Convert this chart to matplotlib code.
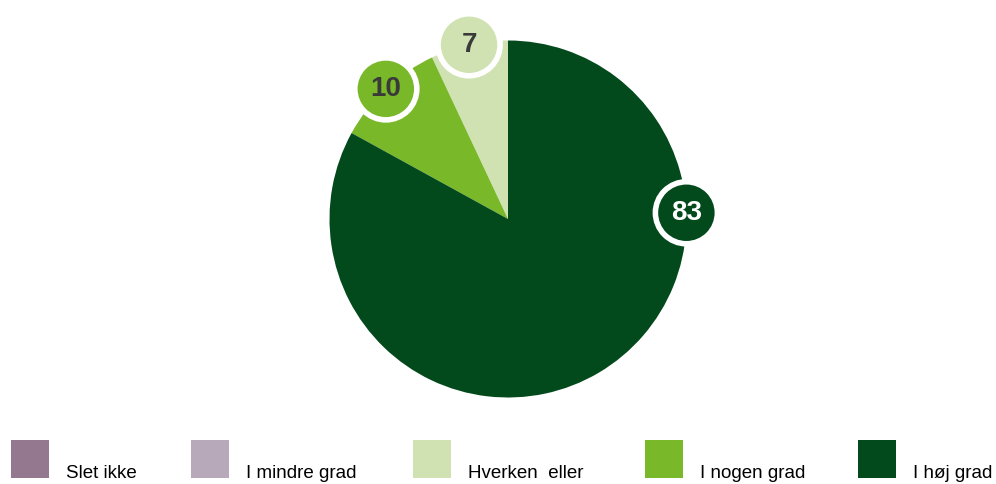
import numpy as np
import matplotlib.pyplot as plt
from matplotlib.patches import Circle, Rectangle

plt.rcParams['font.family'] = ['Liberation Sans', 'DejaVu Sans']

categories = ['Slet ikke', 'I mindre grad', 'Hverken  eller', 'I nogen grad', 'I høj grad']
values = [0, 0, 7, 10, 83]
colors = ['#94788f', '#b8a9ba', '#d0e2b2', '#78b829', '#02491c']
label_colors = ['#3a3a3a', '#3a3a3a', '#3a3a3a', '#3a3a3a', 'white']

W, H = 996, 484
fig = plt.figure(figsize=(W / 100, H / 100), dpi=100)
ax = fig.add_axes([0, 0, 1, 1])

cx, cy, R = 508, H - 219, 178.5
wedges, _ = ax.pie(values, colors=colors, startangle=90, counterclock=True,
                   center=(cx, cy), radius=R, frame=True,
                   wedgeprops=dict(linewidth=0))
ax.set_xlim(0, W)
ax.set_ylim(0, H)
ax.axis('off')

# data labels in circles on the pie edge
for i, (w, v) in enumerate(zip(wedges, values)):
    if v == 0:
        continue
    ang = (w.theta1 + w.theta2) / 2
    if v == max(values):
        ang = 2  # big slice label sits at the right edge
    x = cx + R * np.cos(np.radians(ang))
    y = cy + R * np.sin(np.radians(ang))
    ax.add_patch(Circle((x, y), 31, facecolor=colors[i], edgecolor='white',
                        linewidth=4, zorder=5))
    ax.text(x, y, str(v), ha='center', va='center', fontsize=20,
            fontweight='bold', color=label_colors[i], zorder=6)

# legend along the bottom
leg_x = [11, 191, 413, 645, 858]
sq = 38
for x, c, name in zip(leg_x, colors, categories):
    ax.add_patch(Rectangle((x, H - 478), sq, sq, facecolor=c, edgecolor='none'))
    ax.text(x + sq + 17, H - 478, name, ha='left', va='baseline',
            fontsize=13.5, color='black')

fig.savefig('out.png', dpi=100)
